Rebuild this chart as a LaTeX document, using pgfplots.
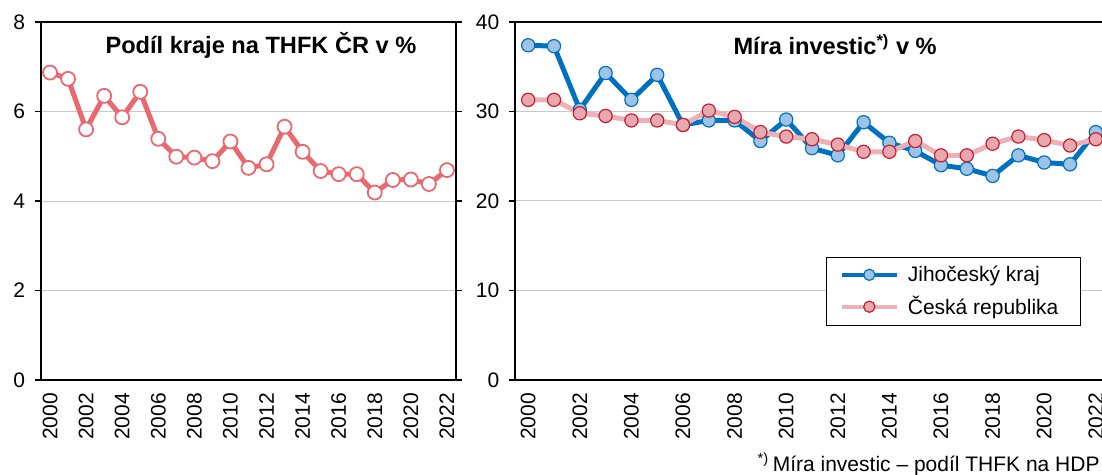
\documentclass[border=0pt]{standalone}
\usepackage{fontspec}
\setmainfont{Liberation Sans}
\usepackage{pgfplots}
\pgfplotsset{compat=1.18}
\definecolor{salmon}{RGB}{234,104,112}
\definecolor{jcblue}{RGB}{0,112,192}
\definecolor{jcfill}{RGB}{157,195,230}
\definecolor{crline}{RGB}{236,176,182}
\definecolor{crfill}{RGB}{232,168,176}
\definecolor{crstroke}{RGB}{196,32,48}
\definecolor{gridgray}{RGB}{200,200,200}
\pgfplotsset{
  base/.style={
    scale only axis,
    height=179pt,
    ymin=0,
    xmin=-0.5, xmax=22.5,
    xtick={0,2,...,22},
    xticklabels={2000,2002,2004,2006,2008,2010,2012,2014,2016,2018,2020,2022},
    minor xtick={-0.5,0.5,...,22.5},
    xtick style={draw=none},
    minor x tick style={black, line width=0.6pt},
    y tick style={black, line width=0.6pt},
    tick align=outside,
    major tick length=3pt,
    minor tick length=3pt,
    ymajorgrids,
    major grid style={gridgray, line width=0.5pt},
    axis line style={black, line width=0.9pt},
    tick label style={font=\fontsize{10.5}{12}\selectfont},
    /pgf/number format/assume math mode=true,
    x tick label style={rotate=90, anchor=east},
    yticklabel style={anchor=east, xshift=-1.5pt},
    clip=false,
  }
}
\begin{document}
\begin{tikzpicture}
\useasboundingbox (0,0) rectangle (551pt,237.5pt);
\clip (0,0) rectangle (551pt,237.5pt);
\begin{axis}[base,
  at={(20.5pt,47.5pt)}, anchor=south west,
  width=207.5pt,
  ymax=8, ytick={0,2,4,6,8},
]
\addplot[salmon, line width=2.5pt, mark=*, mark size=3.5pt,
  mark options={fill=white, draw=salmon, line width=0.9pt}]
coordinates {
(0,6.87)(1,6.73)(2,5.60)(3,6.35)(4,5.87)(5,6.44)(6,5.39)(7,4.99)(8,4.97)(9,4.89)
(10,5.33)(11,4.74)(12,4.82)(13,5.66)(14,5.10)(15,4.67)(16,4.60)(17,4.60)(18,4.19)
(19,4.47)(20,4.48)(21,4.38)(22,4.69)};
\node[anchor=base, font=\bfseries\fontsize{11.8}{13}\selectfont] at (rel axis cs:0.53,0.911) {Podíl kraje na THFK ČR v \%};
\end{axis}
\begin{axis}[base,
  at={(257.65pt,47.5pt)}, anchor=south west,
  width=296.7pt,
  ymax=40, ytick={0,10,20,30,40},
  legend style={at={(rel axis cs:0.524,0.3436)}, anchor=north west,
    draw=black, line width=0.6pt, font=\fontsize{10.5}{12}\selectfont,
    inner xsep=6.5pt, inner ysep=2pt, row sep=2pt,
    nodes={inner xsep=4.5pt}},
  legend cell align=left,
  legend image code/.code={
    \draw[mark repeat=2,mark phase=2,#1,line width=2pt,mark size=2.8pt] plot coordinates {(0pt,0pt)(13.75pt,0pt)(27.5pt,0pt)};
  },
]
\addplot[jcblue, line width=2.5pt, mark=*, mark size=3.3pt,
  mark options={fill=jcfill, draw=jcblue, line width=0.6pt}]
coordinates {
(0,37.4)(1,37.3)(2,30.2)(3,34.3)(4,31.3)(5,34.1)(6,28.5)(7,29.0)(8,29.0)(9,26.7)
(10,29.1)(11,25.9)(12,25.1)(13,28.8)(14,26.5)(15,25.6)(16,24.0)(17,23.6)(18,22.8)
(19,25.1)(20,24.3)(21,24.1)(22,27.7)};
\addlegendentry{Jihočeský kraj}
\addplot[crline, line width=2.5pt, mark=*, mark size=3.3pt,
  mark options={fill=crfill, draw=crstroke, line width=0.6pt}]
coordinates {
(0,31.3)(1,31.3)(2,29.8)(3,29.5)(4,29.0)(5,29.0)(6,28.5)(7,30.1)(8,29.4)(9,27.7)
(10,27.2)(11,26.9)(12,26.3)(13,25.5)(14,25.5)(15,26.7)(16,25.1)(17,25.1)(18,26.4)
(19,27.2)(20,26.8)(21,26.2)(22,26.9)};
\addlegendentry{Česká republika}
\node[anchor=base, font=\bfseries\fontsize{11.8}{13}\selectfont] at (rel axis cs:0.539,0.908) {Míra investic\textsuperscript{*)} v \%};
\end{axis}
\node[anchor=base east, inner sep=0pt, font=\fontsize{10.5}{12}\selectfont] at (550pt,1.75pt) {\textsuperscript{*)}\,Míra investic – podíl THFK na HDP};
\end{tikzpicture}
\end{document}
